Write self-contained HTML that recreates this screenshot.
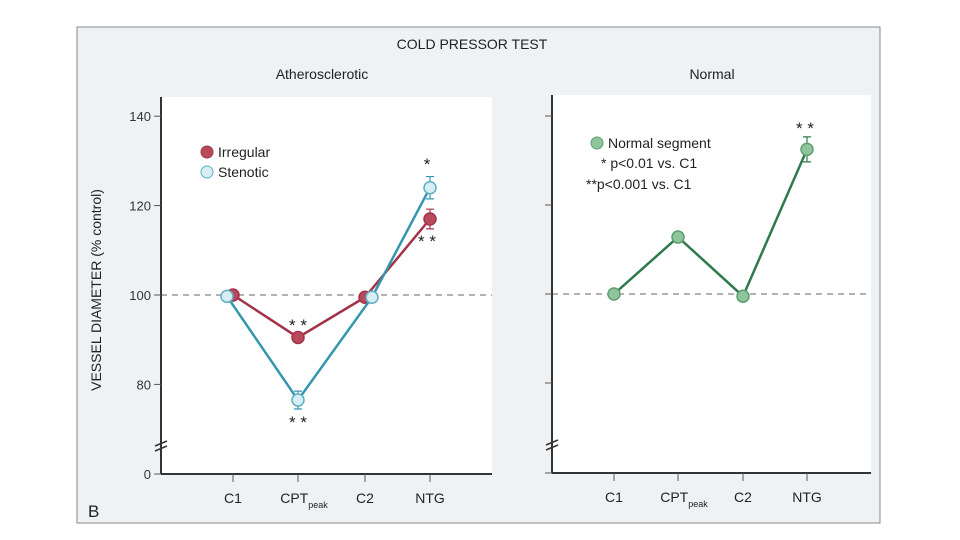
<!DOCTYPE html>
<html><head><meta charset="utf-8"><style>
html,body{margin:0;padding:0;background:#fff;width:960px;height:540px;overflow:hidden}
svg{display:block;font-family:"Liberation Sans",sans-serif}
</style></head><body>
<svg id="chart" width="960" height="540">
<rect x="77" y="27" width="803" height="496" fill="#eef2f5" stroke="#888" stroke-width="1"/>
<text x="472" y="49" font-size="14" text-anchor="middle" fill="#222">COLD PRESSOR TEST</text>
<text x="322" y="79" font-size="14" text-anchor="middle" fill="#222">Atherosclerotic</text>
<text x="712" y="79" font-size="14" text-anchor="middle" fill="#222">Normal</text>
<text transform="translate(101,290) rotate(-90)" font-size="14" text-anchor="middle" fill="#222">VESSEL DIAMETER (% control)</text>
<text x="88" y="517" font-size="17" fill="#222">B</text>
<g id="left"></g><g id="right"></g>
</svg>
<script>
const categories=["C1","CPT","C2","NTG"];
const irregular=[100,90.5,99.5,117];
const irregularErr=[0.8,1,0.8,2.2];
const stenotic=[99.7,76.5,99.5,124];
const stenoticErr=[0.8,2,0.8,2.5];
const normalSeg=[100,112.8,99.5,132.5];
const normalErr=[0.8,1,1,2.8];
const yTicks=[140,120,100,80];
const NS="http://www.w3.org/2000/svg";
function mk(p,t,a){const e=document.createElementNS(NS,t);for(const k in a)e.setAttribute(k,a[k]);p.appendChild(e);return e;}
function panel(g,P){
 const y=v=>P.y100-(v-100)*P.k;
 const x=i=>P.xs[i];
 const bg=mk(g,"rect",{x:P.ax,y:P.top,width:P.right-P.ax,height:P.bot-P.top,fill:"#fff"});
 
 
 const d=mk(g,"line",{x1:P.ax,x2:P.right,y1:y(100),y2:y(100),stroke:"#666","stroke-dasharray":"6 5"});
 
 
 mk(g,"line",{x1:P.ax,x2:P.ax,y1:P.top,y2:P.bot,stroke:"#333","stroke-width":2});
 mk(g,"line",{x1:P.ax,x2:P.right,y1:P.bot,y2:P.bot,stroke:"#333","stroke-width":2});
 mk(g,"line",{x1:P.ax-7,x2:P.ax,y1:P.bot,y2:P.bot,stroke:"#555"});
 mk(g,"path",{d:`M${P.ax-6} ${P.bot-28}l12 -5M${P.ax-6} ${P.bot-23}l12 -5`,stroke:"#333","stroke-width":1.5,fill:"none"});
 if(P.labels){const t=mk(g,"text",{x:P.ax-10,y:P.bot+5,"font-size":13,"text-anchor":"end",fill:"#333"});t.textContent="0";}
 yTicks.forEach(v=>{
  mk(g,"line",{x1:P.ax-7,x2:P.ax,y1:y(v),y2:y(v),stroke:"#555"});
  if(P.labels){const t=mk(g,"text",{x:P.ax-10,y:y(v)+5,"font-size":13,"text-anchor":"end",fill:"#333"});t.textContent=v;
   
   }
 });
 categories.forEach((c,i)=>{
  mk(g,"line",{x1:x(i),x2:x(i),y1:P.bot,y2:P.bot+8,stroke:"#555"});
  const t=mk(g,"text",{x:x(i),y:P.bot+29,"font-size":14,"text-anchor":"middle",fill:"#222"});
  if(c==="CPT"){t.textContent="CPT";const s=mk(t,"tspan",{"font-size":9,dy:5});s.textContent="peak";t.setAttribute("x",x(i)+6);}
  else t.textContent=c;
  
  
 });
 return {x,y};
}
function series(g,S,ax,name){
 const pts=S.vals.map((v,i)=>[ax.x(i)+(S.dx?S.dx[i]:0),ax.y(v)]);
 const l=mk(g,"polyline",{points:pts.map(p=>p.join(",")).join(" "),fill:"none",stroke:S.line,"stroke-width":2.5});
 
 
 pts.forEach((p,i)=>{
  const e=S.err[i]*4.47;
  mk(g,"path",{d:`M${p[0]} ${p[1]-e}V${p[1]+e}M${p[0]-4} ${p[1]-e}h8M${p[0]-4} ${p[1]+e}h8`,stroke:S.line,"stroke-width":1.2});
  const c=mk(g,"circle",{cx:p[0],cy:p[1],r:6,fill:S.fill,stroke:S.stroke,"stroke-width":1.5});
  
  
 });
}
function txt(g,x,y,s,size,name,anchor){const t=mk(g,"text",{x,y,"font-size":size,fill:"#222","text-anchor":anchor||"start"});t.textContent=s;
 
 return t;}
const L=document.getElementById("left"),R=document.getElementById("right");
const la=panel(L,{ax:161,right:492,top:97,bot:474,y100:295,k:4.47,xs:[233,298,365,430],labels:true});
series(L,{vals:irregular,err:irregularErr,line:"#a3334a",fill:"#b84a5c",stroke:"#a3334a"},la,"irregular");
series(L,{vals:stenotic,err:stenoticErr,dx:[-6,0,7,0],line:"#3597ad",fill:"#d6eef4",stroke:"#5fb0c2"},la,"stenotic");
txt(L,298,331,"* *",17,"sig-irregular-cpt","middle");
txt(L,298,428,"* *",17,"sig-stenotic-cpt","middle");
txt(L,427,170,"*",17,"sig-stenotic-ntg","middle");
txt(L,427,247,"* *",17,"sig-irregular-ntg","middle");
mk(L,"circle",{cx:207,cy:152,r:6,fill:"#b84a5c",stroke:"#a3334a"});
txt(L,218,157,"Irregular",14,"legend-irregular");
mk(L,"circle",{cx:207,cy:172,r:6,fill:"#d6eef4",stroke:"#5fb0c2"});
txt(L,218,177,"Stenotic",14,"legend-stenotic");
const ra=panel(R,{ax:552,right:871,top:95,bot:473,y100:294,k:4.45,xs:[614,678,743,807],labels:false});
series(R,{vals:normalSeg,err:normalErr,line:"#2f7a4c",fill:"#8fc49c",stroke:"#5e9f70"},ra,"normal");
txt(R,805,134,"* *",17,"sig-normal-ntg","middle");
mk(R,"circle",{cx:597,cy:143,r:6,fill:"#8fc49c",stroke:"#5e9f70"});
txt(R,608,148,"Normal segment",14,"legend-normal");
txt(R,601,168,"* p<0.01 vs. C1",14,"legend-p001");
txt(R,586,189,"**p<0.001 vs. C1",14,"legend-p0001");
</script>
</body></html>
